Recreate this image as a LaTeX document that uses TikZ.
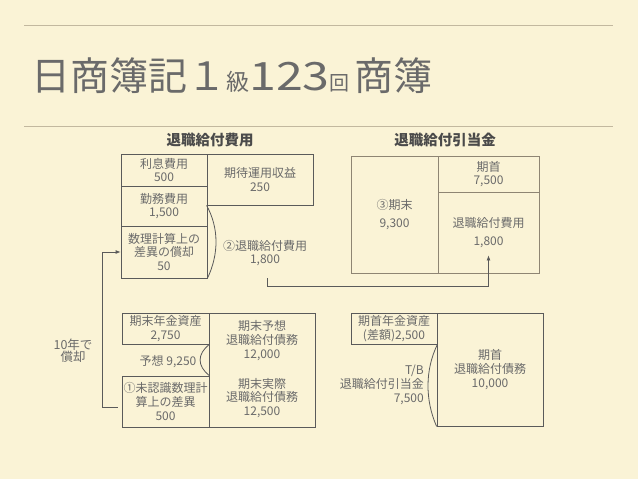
\documentclass[tikz,border=0pt]{standalone}
\usepackage{fontspec}
\setmainfont{Noto Sans CJK JP}
\usepackage{graphicx}
\usepackage{xcolor}
\usepackage{tikz}
\usetikzlibrary{arrows.meta, positioning}
\definecolor{paper}{HTML}{FAF3D6}
\definecolor{rulecol}{HTML}{C2B89F}
\definecolor{ink}{HTML}{6A6A6A}
\definecolor{txtgray}{HTML}{6A6A6A}
\definecolor{linegray}{HTML}{5A5A5A}
\definecolor{linetan}{HTML}{8E8573}
\definecolor{headgray}{HTML}{4A4A4A}

\begin{document}
\begin{tikzpicture}[x=1pt, y=-1pt, every node/.style={font=\fontsize{12}{13.7}\selectfont, text=txtgray},
  cell/.style={draw=linegray, rectangle, inner sep=0pt, align=center, line width=0.8pt},
  tancell/.style={cell, draw=linetan},
  note/.style={align=center, inner sep=0pt},
  head/.style={inner sep=0pt, text=headgray, font=\fontsize{14.5}{16}\selectfont\bfseries},
  conn/.style={draw=linegray, line width=0.8pt}]
\useasboundingbox[fill=paper] (0,0) rectangle (638,479);
% title and rules
\draw[rulecol, line width=0.8pt] (24,25) -- (613,25);
\draw[rulecol, line width=0.8pt] (24,126) -- (613,126);
\node[anchor=west, inner sep=0pt, text=ink, font=\fontsize{39}{39}\selectfont] (title) at (31,76) {日商簿記１{\fontsize{23}{23}\selectfont 級}\scalebox{1.24}[1]{123}{\fontsize{20}{20}\selectfont 回}\hspace{5pt}商簿};

% 退職給付費用
\node[head] (hexp) at (210,140) {退職給付費用};
\node[cell, minimum width=86pt, minimum height=32pt] (int) at (164,170) {利息費用\\500};
\node[cell, minimum width=86pt, minimum height=40pt] (svc) at (164,206) {勤務費用\\1,500};
\node[cell, minimum width=86pt, minimum height=52pt] (amort) at (164,252) {数理計算上の\\差異の償却\\50};
\node[cell, minimum width=106pt, minimum height=51pt] (ret) at (260,179.5) {期待運用収益\\250};
\node[note] (exp2) at (265,253) {②退職給付費用\\1,800};
\draw[linegray, line width=0.8pt] (ret.south west) .. controls (219,228) and (219,254) .. (amort.south east);

% 退職給付引当金
\node[head] (hres) at (445,140) {退職給付引当金};
\node[tancell, minimum width=87pt, minimum height=117pt] (end) at (394.5,214.5) {③期末\\[4pt]9,300};
\node[tancell, minimum width=101pt, minimum height=36pt] (beg) at (488.5,174) {期首\\7,500};
\node[tancell, minimum width=101pt, minimum height=81pt] (rexp) at (488.5,232.5) {退職給付費用\\[4pt]1,800};
\coordinate (src) at (267,278);
\draw[conn, -{Latex[length=5pt, width=4pt]}] (src) -- ++(0,8.7) -| ([yshift=18pt]rexp.south);

% 期末
\node[cell, minimum width=87pt, minimum height=31pt] (pa) at (165.5,328.5) {期末年金資産\\2,750};
\node[cell, minimum width=87pt, minimum height=51pt] (unc) at (165.5,401.5) {①未認識数理計\\算上の差異\\500};
\node[cell, minimum width=106pt, minimum height=114pt] (dbo) at (262,370) {};
\node[note] (dbop) at (262,340.5) {期末予想\\退職給付債務\\12,000};
\node[note] (dboa) at (262,398) {期末実際\\退職給付債務\\12,500};
\node[note] (exp) at (168,362) {予想 9,250};
\draw[linegray, line width=0.8pt] (pa.south east) .. controls (197,354) and (197,366) .. (unc.north east);
\node[note, font=\fontsize{12.5}{12}\selectfont] (ten) at (73,350.5) {10年で\\償却};
\draw[conn, -{Latex[length=5pt, width=4pt]}] ([xshift=-4pt, yshift=-5.5pt]unc.west) -| ([xshift=-18pt]amort.west) -- (amort.west);

% 期首
\node[cell, minimum width=86pt, minimum height=31pt] (pab) at (394,328.5) {期首年金資産\\(差額)2,500};
\node[cell, minimum width=106pt, minimum height=113pt] (dbob) at (490,369.5) {期首\\退職給付債務\\10,000};
\node[note, anchor=east, align=right] (tb) at (424,384.8) {T/B\\退職給付引当金\\7,500};
\draw[linegray, line width=0.8pt] (pab.south east) .. controls (425,370) and (425,400) .. (dbob.south west);
\end{tikzpicture}
\end{document}
